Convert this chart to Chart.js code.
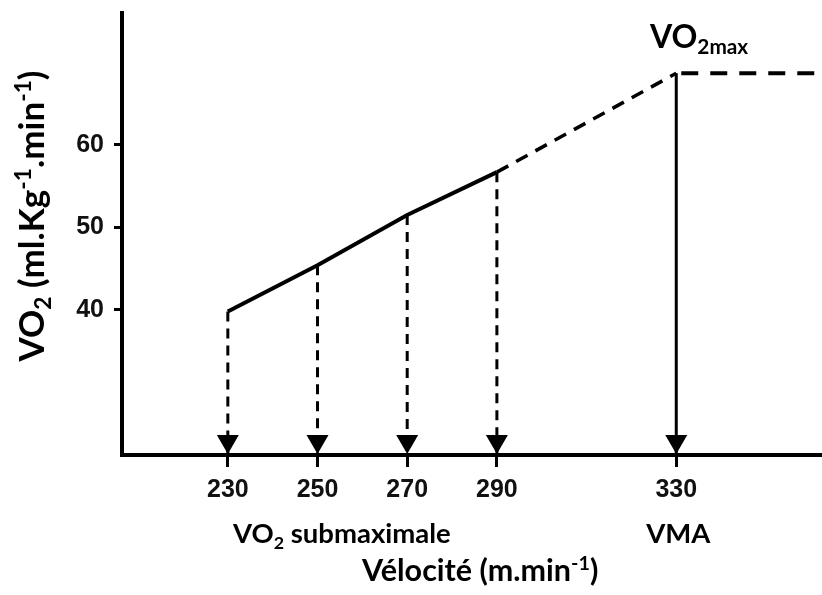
<!DOCTYPE html>
<html>
<head>
<meta charset="utf-8">
<script src="https://cdn.jsdelivr.net/npm/chart.js"></script>
<style>
  html, body { margin: 0; padding: 0; background: #fff; }
  #wrap { width: 822px; height: 595px; }
</style>
</head>
<body>
<div id="wrap"><canvas id="vo2Chart" width="822" height="595"></canvas></div>
<script>
// VO2 vs velocity - submaximal points extrapolated to VO2max / VMA
var velocities = [230, 250, 270, 290];
var vo2Sub = [39.8, 45.4, 51.5, 56.7];
var vmaSpeed = 330;
var vo2Max = 68.7;
var xTicks = [230, 250, 270, 290, 330];
var yTicks = [40, 50, 60];

var X_MIN = 206.4, X_MAX = 362.5;
var Y_MIN = 22.4, Y_MAX = 76;

function pts(xs, ys) {
  return xs.map(function (x, i) { return { x: x, y: ys[i] }; });
}

var datasets = [];
// measured part (solid)
datasets.push({ data: pts(velocities, vo2Sub), borderWidth: 4, borderDash: [] });
// extrapolation to VO2max (dashed)
datasets.push({
  data: pts([velocities[velocities.length - 1], vmaSpeed], [vo2Sub[vo2Sub.length - 1], vo2Max]),
  borderWidth: 3.5, borderDash: [13, 9]
});
// plateau
datasets.push({ data: pts([vmaSpeed, X_MAX], [vo2Max, vo2Max]), borderWidth: 4, borderDash: [17, 12], borderDashOffset: -5 });
// drop lines to the x axis
velocities.forEach(function (v, i) {
  datasets.push({ data: pts([v, v], [vo2Sub[i], Y_MIN]), borderWidth: 3, borderDash: [10, 7] });
});
datasets.push({ data: pts([vmaSpeed, vmaSpeed], [vo2Max, Y_MIN]), borderWidth: 3, borderDash: [] });

datasets.forEach(function (d) {
  d.borderColor = '#000';
  d.pointRadius = 0;
  d.fill = false;
  d.tension = 0;
  d.showLine = true;
});

function drawRich(ctx, parts, x, y, size, align) {
  var fam = 'Lato, "Open Sans", sans-serif';
  var total = 0;
  parts.forEach(function (p) {
    var s = p[1] ? size * 0.65 : size;
    ctx.font = 'bold ' + s + 'px ' + fam;
    p.w = ctx.measureText(p[0]).width;
    total += p.w;
  });
  var cx = align === 'center' ? x - total / 2 : x;
  parts.forEach(function (p) {
    var s = p[1] ? size * 0.65 : size;
    var dy = p[1] === 'sub' ? size * 0.2 : (p[1] === 'sup' ? -size * 0.36 : 0);
    ctx.font = 'bold ' + s + 'px ' + fam;
    ctx.fillText(p[0], cx, y + dy);
    cx += p.w;
  });
}

var annotations = {
  id: 'annotations',
  afterDraw: function (chart) {
    var ctx = chart.ctx;
    var xs = chart.scales.x;
    var bottom = chart.chartArea.bottom;
    ctx.save();
    ctx.fillStyle = '#000';
    // arrow heads on the axis
    xTicks.forEach(function (v) {
      var px = xs.getPixelForValue(v);
      ctx.beginPath();
      ctx.moveTo(px - 11, bottom - 20);
      ctx.lineTo(px + 11, bottom - 20);
      ctx.lineTo(px, bottom - 1);
      ctx.closePath();
      ctx.fill();
    });
    ctx.textBaseline = 'alphabetic';
    drawRich(ctx, [['VO'], ['2', 'sub'], [' submaximale']], 233, 543, 27.5, 'left');
    drawRich(ctx, [['VMA']], xs.getPixelForValue(vmaSpeed) + 2, 543, 27.5, 'center');
    drawRich(ctx, [['Vélocité (m.min'], ['-1', 'sup'], [')']], 362, 581, 30.5, 'left');
    drawRich(ctx, [['VO'], ['2max', 'sub']], 650, 48, 32, 'left');
    // y axis title
    ctx.translate(44, 216);
    ctx.rotate(-Math.PI / 2);
    drawRich(ctx, [['VO'], ['2', 'sub'], [' (ml.Kg'], ['-1', 'sup'], ['.min'], ['-1', 'sup'], [')']], 0, 0, 35, 'center');
    ctx.restore();
  }
};

var tickFont = { family: '"Liberation Sans", Arial, sans-serif', size: 25, weight: 'bold' };

new Chart(document.getElementById('vo2Chart').getContext('2d'), {
  type: 'scatter',
  data: { datasets: datasets },
  options: {
    responsive: false,
    animation: false,
    layout: { padding: { left: 0, top: 13, right: 0, bottom: 0 } },
    plugins: { legend: { display: false }, tooltip: { enabled: false } },
    scales: {
      x: {
        type: 'linear', min: X_MIN, max: X_MAX,
        afterBuildTicks: function (axis) { axis.ticks = xTicks.map(function (v) { return { value: v }; }); },
        afterFit: function (axis) { axis.height = 140; axis.paddingLeft = 0; axis.paddingRight = 0; },
        ticks: { font: tickFont, color: '#111', padding: 8, maxRotation: 0, autoSkip: false },
        grid: { drawOnChartArea: false, tickLength: 12, lineWidth: 3, color: '#000' },
        border: { width: 4, color: '#000' }
      },
      y: {
        type: 'linear', min: Y_MIN, max: Y_MAX,
        afterBuildTicks: function (axis) { axis.ticks = yTicks.map(function (v) { return { value: v }; }); },
        afterFit: function (axis) { axis.width = 122; axis.paddingTop = 0; axis.paddingBottom = 0; },
        ticks: { font: tickFont, color: '#111', padding: 10 },
        grid: { drawOnChartArea: false, tickLength: 8, lineWidth: 3, color: '#000' },
        border: { width: 4, color: '#000' }
      }
    }
  },
  plugins: [annotations]
});
</script>
</body>
</html>
